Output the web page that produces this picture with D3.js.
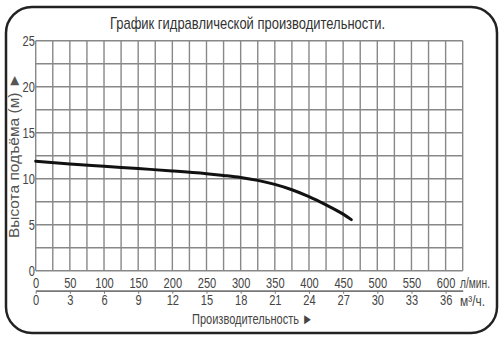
<!DOCTYPE html>
<html lang="ru">
<head>
    <meta charset="UTF-8">
    <title>График гидравлической производительности</title>
    <script src="https://d3js.org/d3.v7.min.js"></script>
    <style>
        body { margin: 0; background: #fff; }
        svg text { font-family: "Liberation Sans", Arial, sans-serif; }
    </style>
</head>
<body>
    <div id="chart"></div>
    <script>
        // pump curve: flow (l/min) -> head (m)
        var flow = [0, 50, 100, 150, 200, 250, 275, 300, 325, 350, 375, 400, 425, 450, 462];
        var head = [11.9, 11.6, 11.35, 11.1, 10.85, 10.55, 10.36, 10.14, 9.82, 9.38, 8.8, 8.05, 7.15, 6.15, 5.55];

        // tick labels
        var flowTicks = [0, 50, 100, 150, 200, 250, 300, 350, 400, 450, 500, 550, 600];
        var m3hTicks = [0, 3, 6, 9, 12, 15, 18, 21, 24, 27, 30, 33, 36];
        var headTicks = [0, 5, 10, 15, 20, 25];

        var W = 504, H = 342;
        var svg = d3.select("#chart").append("svg")
            .attr("width", W).attr("height", H);

        // squeeze text horizontally (the original uses a narrow face)
        function narrow(sel, size) {
            sel.attr("font-size", size)
               .attr("fill", "#444")
               .attr("font-family", null)
               .attr("transform", "scale(0.74,1)");
        }

        // rounded frame
        svg.append("rect")
            .attr("x", 6).attr("y", 7)
            .attr("width", 491).attr("height", 326)
            .attr("rx", 26).attr("ry", 26)
            .attr("fill", "#fff")
            .attr("stroke", "#222")
            .attr("stroke-width", 2.5);

        var x = d3.scaleLinear().domain([0, 625]).range([35.7, 462.7]);
        var y = d3.scaleLinear().domain([0, 25]).range([270.7, 40.7]);

        // grid: every 25 l/min and every 2.5 m
        var grid = svg.append("g").attr("stroke", "#888").attr("stroke-width", 1.4);
        grid.selectAll("line.v")
            .data(d3.range(0, 626, 25))
            .enter().append("line")
                .attr("class", "v")
                .attr("x1", function(d) { return x(d); })
                .attr("x2", function(d) { return x(d); })
                .attr("y1", y(0)).attr("y2", y(25));
        grid.selectAll("line.h")
            .data(d3.range(0, 25.1, 2.5))
            .enter().append("line")
                .attr("class", "h")
                .attr("y1", function(d) { return y(d); })
                .attr("y2", function(d) { return y(d); })
                .attr("x1", x(0)).attr("x2", x(625));

        // y axis labels
        var yAxis = svg.append("g")
            .attr("transform", "translate(" + x(0) + ",0)")
            .call(d3.axisLeft(y).tickValues(headTicks).tickSize(0).tickPadding(1));
        yAxis.select(".domain").remove();
        narrow(yAxis.selectAll("text"), 15);

        // x axis: l/min above the line, m3/h below
        var axisY = 290.7;
        var topAxis = svg.append("g")
            .attr("transform", "translate(0," + axisY + ")")
            .call(d3.axisTop(x).tickValues(flowTicks).tickSize(0).tickPadding(3));
        topAxis.select(".domain").remove();
        narrow(topAxis.selectAll("text"), 15);

        var m3 = d3.scaleLinear().domain([0, 37.5]).range(x.range());
        var botAxis = svg.append("g")
            .attr("transform", "translate(0," + axisY + ")")
            .call(d3.axisBottom(m3).tickValues(m3hTicks).tickSize(3).tickSizeOuter(0).tickPadding(1));
        botAxis.select(".domain").attr("stroke", "#777").attr("stroke-width", 1.8);
        botAxis.selectAll("line").attr("stroke", "#777");
        narrow(botAxis.selectAll("text"), 15);

        // unit labels
        svg.append("text")
            .attr("x", 460).attr("y", 288)
            .attr("font-size", 14).attr("fill", "#444")
            .attr("textLength", 30).attr("lengthAdjust", "spacingAndGlyphs")
            .text("л/мин.");
        svg.append("text")
            .attr("x", 460).attr("y", 306)
            .attr("font-size", 14).attr("fill", "#444")
            .attr("textLength", 25).attr("lengthAdjust", "spacingAndGlyphs")
            .text("м³/ч.");

        // curve
        var pts = flow.map(function(f, i) { return [f, head[i]]; });
        var line = d3.line()
            .x(function(d) { return x(d[0]); })
            .y(function(d) { return y(d[1]); })
            .curve(d3.curveMonotoneX);
        svg.append("path")
            .datum(pts)
            .attr("d", line)
            .attr("fill", "none")
            .attr("stroke", "#111")
            .attr("stroke-width", 3)
            .attr("stroke-linecap", "round");

        // title
        svg.append("text")
            .attr("x", 110).attr("y", 29)
            .attr("font-size", 17).attr("fill", "#333")
            .attr("textLength", 275).attr("lengthAdjust", "spacingAndGlyphs")
            .text("График гидравлической производительности.");

        // axis titles
        svg.append("text")
            .attr("x", 192).attr("y", 324)
            .attr("font-size", 15).attr("fill", "#444")
            .attr("textLength", 121).attr("lengthAdjust", "spacingAndGlyphs")
            .text("Производительность ►");

        svg.append("text")
            .attr("transform", "translate(19,238) rotate(-90)")
            .attr("font-size", 15).attr("fill", "#555")
            .attr("textLength", 165).attr("lengthAdjust", "spacingAndGlyphs")
            .text("Высота подъёма (м) ►");
    </script>
</body>
</html>
